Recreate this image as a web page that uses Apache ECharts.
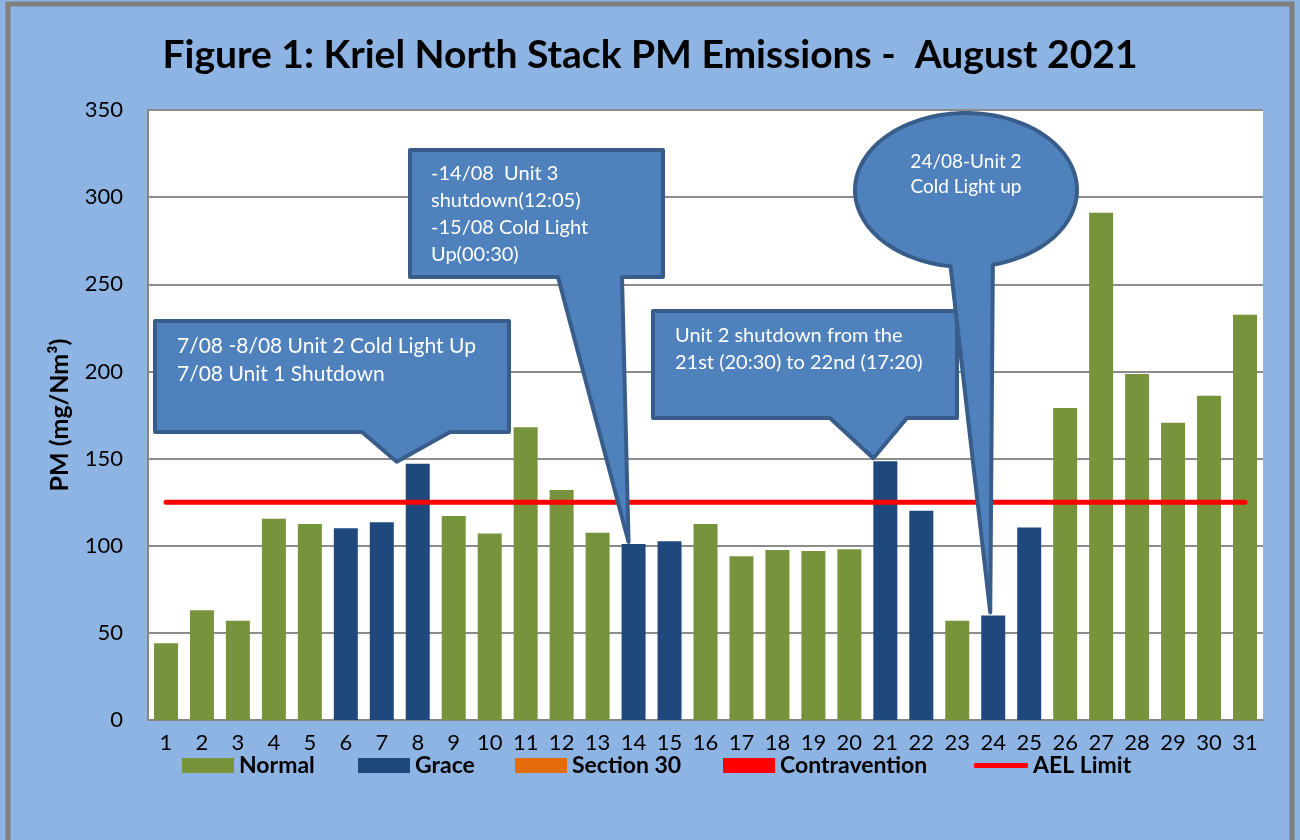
<!DOCTYPE html>
<html>
<head>
<meta charset="utf-8">
<script src="https://cdn.jsdelivr.net/npm/echarts@6/dist/echarts.min.js"></script>
<style>
  html, body { margin: 0; padding: 0; background: #fff; }
  #main { width: 1300px; height: 840px; }
</style>
</head>
<body>
<div id="main"></div>
<script>
// days of August 2021
const days = ['1','2','3','4','5','6','7','8','9','10','11','12','13','14','15','16','17','18','19','20','21','22','23','24','25','26','27','28','29','30','31']
// PM daily values (mg/Nm3), split by status
const normalValues = [44, 63, 57, 115.5, 112.5, '-', '-', '-', 117, 107, 168, 132, 107.5, '-', '-', 112.5, 94, 97.5, 97, 98, '-', '-', 57, '-', '-', 179, 291, 198.5, 170.5, 186, 232.5]
const graceValues = ['-', '-', '-', '-', '-', 110, 113.5, 147, '-', '-', '-', '-', '-', 101, 102.5, '-', '-', '-', '-', '-', 148.5, 120, '-', 60, 110.5, '-', '-', '-', '-', '-', '-']
const section30Values = []
const contraventionValues = []
const aelLimit = 125
const yTicks = [0, 350, 50]

const FONT = 'Lato'
const chart = echarts.init(document.getElementById('main'))

function legendAt(name, left, icon, w, h) {
  return {
    data: [name],
    left: left,
    top: 754,
    padding: 0,
    icon: icon,
    itemWidth: w,
    itemHeight: h,
    itemGap: 0,
    textStyle: { fontFamily: FONT, fontWeight: 'bold', fontSize: 23, color: '#000', padding: [0, 0, 0, 0] },
  }
}

const option = {
  backgroundColor: '#8EB4E3',
  animation: false,
  title: {
    text: 'Figure 1: Kriel North Stack PM Emissions -  August 2021',
    left: 'center',
    top: 31,
    textStyle: { fontFamily: FONT, fontWeight: 'bold', fontSize: 39, color: '#000' },
  },
  grid: { left: 148, right: 37, top: 110, bottom: 120, show: true, backgroundColor: '#fff', borderWidth: 0 },
  legend: [
    legendAt('Normal', 182, 'rect', 52, 15),
    legendAt('Grace', 358, 'rect', 52, 15),
    legendAt('Section 30', 515, 'rect', 52, 15),
    legendAt('Contravention', 723, 'rect', 52, 15),
    legendAt('AEL Limit', 974, 'roundRect', 54, 5),
  ],
  xAxis: {
    type: 'category',
    data: days,
    axisLine: { lineStyle: { color: '#868686', width: 2 } },
    axisTick: { show: false },
    axisLabel: { fontFamily: FONT, fontSize: 22, color: '#000', margin: 12, interval: 0 },
  },
  yAxis: {
    type: 'value',
    min: yTicks[0],
    max: yTicks[1],
    interval: yTicks[2],
    name: 'PM (mg/Nm³)',
    nameLocation: 'middle',
    nameGap: 76,
    nameTextStyle: { fontFamily: FONT, fontWeight: 'bold', fontSize: 25, color: '#000' },
    axisLine: { show: true, lineStyle: { color: '#868686', width: 2 } },
    axisTick: { show: false },
    axisLabel: { fontFamily: FONT, fontSize: 22, color: '#000', margin: 25 },
    splitLine: { lineStyle: { color: '#8c8c8c', width: 2 } },
  },
  series: [
    { name: 'Normal', type: 'bar', data: normalValues, barWidth: 24, barGap: '-100%', itemStyle: { color: '#77933C' } },
    { name: 'Grace', type: 'bar', data: graceValues, barWidth: 24, barGap: '-100%', itemStyle: { color: '#1F497D' } },
    { name: 'Section 30', type: 'bar', data: section30Values, barWidth: 24, barGap: '-100%', itemStyle: { color: '#E46C0A' } },
    { name: 'Contravention', type: 'bar', data: contraventionValues, barWidth: 24, barGap: '-100%', itemStyle: { color: '#FF0000' } },
    {
      name: 'AEL Limit', type: 'line', data: days.map(() => aelLimit), symbol: 'none',
      itemStyle: { color: '#FF0000' },
      lineStyle: { color: '#FF0000', width: 5, cap: 'round' },
      z: 3,
    },
  ],
}
chart.setOption(option)

// callout annotations
const fill = '#4F81BD'
const edge = '#385D8A'
function boxCallout(x0, y0, x1, y1, tl, tr, tip) {
  return {
    type: 'polygon',
    z: 100,
    shape: { points: [[x0, y0], [x1, y0], [x1, y1], [tr, y1], tip, [tl, y1], [x0, y1]] },
    style: { fill: fill, stroke: edge, lineWidth: 4, lineJoin: 'round' },
  }
}
function calloutText(x, y, lines, size, lh, align) {
  return {
    type: 'text',
    z: 101,
    x: x,
    y: y,
    style: {
      text: lines.join('\n'),
      fill: '#fff',
      font: size + 'px ' + FONT,
      lineHeight: lh,
      align: align || 'left',
      verticalAlign: 'top',
    },
  }
}
function ellipseCallout(cx, cy, rx, ry, a0, a1, tip) {
  const pts = []
  for (let a = a0; a <= a1; a += 2) {
    const r = a * Math.PI / 180
    pts.push([cx + rx * Math.cos(r), cy + ry * Math.sin(r)])
  }
  pts.push(tip)
  return {
    type: 'polygon',
    z: 100,
    shape: { points: pts },
    style: { fill: fill, stroke: edge, lineWidth: 4, lineJoin: 'round' },
  }
}

const t8 = chart.convertToPixel({ seriesIndex: 1 }, [7, graceValues[7]])
const t14 = chart.convertToPixel({ seriesIndex: 1 }, [13, graceValues[13]])
const t21 = chart.convertToPixel({ seriesIndex: 1 }, [20, graceValues[20]])
const t24 = chart.convertToPixel({ seriesIndex: 1 }, [23, graceValues[23]])

chart.setOption({
  graphic: [
    { type: 'rect', z: 99, silent: true, shape: { x: 8, y: 4, width: 1284, height: 900 }, style: { fill: null, stroke: '#808080', lineWidth: 5 } },
    boxCallout(155, 321, 509, 432, 362, 450, [t8[0] - 21, t8[1] - 2]),
    calloutText(177, 332, ['7/08 -8/08 Unit 2 Cold Light Up', '7/08 Unit 1 Shutdown'], 21, 28),
    boxCallout(410, 150, 663, 277, 558, 622, [t14[0] - 5, t14[1] - 2]),
    calloutText(431, 160, ['-14/08  Unit 3', 'shutdown(12:05)', '-15/08 Cold Light', 'Up(00:30)'], 20, 27),
    boxCallout(653, 311, 957, 418, 830, 907, [t21[0] - 12, t21[1] - 3]),
    calloutText(675, 322, ['Unit 2 shutdown from the', '21st (20:30) to 22nd (17:20)'], 20, 27),
    ellipseCallout(966, 190, 111, 77, 98, 436, [t24[0] - 3, t24[1] - 3]),
    calloutText(966, 149, ['24/08-Unit 2', 'Cold Light up'], 19, 25, 'center'),
  ],
})
</script>
</body>
</html>
